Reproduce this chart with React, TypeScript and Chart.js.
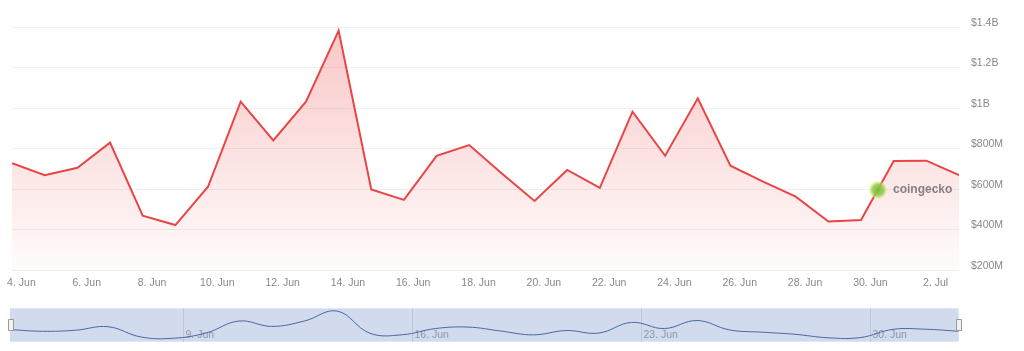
import React, { useEffect, useRef } from "react";
import { Chart, registerables } from "chart.js";

Chart.register(...registerables);

// Daily trading volume in $M, one point per day starting 4 Jun
const volumes = [
  727, 668, 705, 829, 468, 422, 611, 1031, 840, 1031, 1382, 598, 546, 764, 817,
  677, 541, 694, 606, 982, 764, 1048, 715, 636, 562, 439, 447, 738, 740, 669,
];
// points are stamped slightly before local midnight (timezone shift), in days
const dayShift = -0.285;

const xTickDays = [0, 2, 4, 6, 8, 10, 12, 14, 16, 18, 20, 22, 24, 26, 28];
const xTickLabels = [
  "4. Jun", "6. Jun", "8. Jun", "10. Jun", "12. Jun", "14. Jun", "16. Jun",
  "18. Jun", "20. Jun", "22. Jun", "24. Jun", "26. Jun", "28. Jun", "30. Jun", "2. Jul",
];
const yTicks = [200, 400, 600, 800, 1000, 1200, 1400];
const yTickLabels = ["$200M", "$400M", "$600M", "$800M", "$1B", "$1.2B", "$1.4B"];
const navTickDays = [5, 12, 19, 26];
const navTickLabels = ["9. Jun", "16. Jun", "23. Jun", "30. Jun"];

const FONT = "'Liberation Sans', Arial, sans-serif";
const LABEL_COLOR = "#888888";

export default function App() {
  const mainRef = useRef<HTMLCanvasElement | null>(null);
  const navRef = useRef<HTMLCanvasElement | null>(null);

  useEffect(() => {
    const points = volumes.map((v, i) => ({ x: i + dayShift, y: v }));
    const xMin = dayShift;
    const xMax = volumes.length - 1 + dayShift;

    const watermark = {
      id: "watermark",
      afterDatasetsDraw(chart: any) {
        const ctx = chart.ctx;
        ctx.save();
        const cx = 878, cy = 190;
        const g = ctx.createRadialGradient(cx, cy, 1, cx, cy, 9);
        g.addColorStop(0, "rgba(120,190,60,0.95)");
        g.addColorStop(0.6, "rgba(150,205,70,0.85)");
        g.addColorStop(1, "rgba(235,240,120,0.35)");
        ctx.fillStyle = g;
        ctx.beginPath();
        ctx.arc(cx, cy, 9, 0, Math.PI * 2);
        ctx.fill();
        ctx.font = `bold 12px ${FONT}`;
        ctx.fillStyle = "rgba(110,110,110,0.85)";
        ctx.textBaseline = "middle";
        ctx.textAlign = "left";
        ctx.fillText("coingecko", 893, 190);
        ctx.restore();
      },
    };

    const main = new Chart(mainRef.current as HTMLCanvasElement, {
      type: "line",
      data: {
        datasets: [
          {
            data: points,
            borderColor: "#e84545",
            borderWidth: 2,
            pointRadius: 0,
            tension: 0,
            fill: "start",
            backgroundColor: (c: any) => {
              const area = c.chart.chartArea;
              if (!area) return "rgba(232,69,69,0.15)";
              const g = c.chart.ctx.createLinearGradient(0, area.top, 0, area.bottom);
              g.addColorStop(0, "rgba(240,80,80,0.32)");
              g.addColorStop(1, "rgba(240,80,80,0.02)");
              return g;
            },
          },
        ],
      },
      options: {
        animation: false,
        responsive: false,
        events: [],
        layout: { padding: { left: 11.7, top: 27, right: 0, bottom: 0 } },
        plugins: { legend: { display: false }, tooltip: { enabled: false } },
        scales: {
          x: {
            type: "linear",
            min: xMin,
            max: xMax,
            afterBuildTicks: (s: any) => {
              s.ticks = xTickDays.map((v) => ({ value: v }));
            },
            afterFit: (s: any) => {
              s.height = 30;
            },
            ticks: {
              autoSkip: false,
              maxRotation: 0,
              padding: 7,
              color: LABEL_COLOR,
              font: { family: FONT, size: 10.5 },
              callback: (_v: any, i: number) => xTickLabels[i],
            },
            grid: { display: false, drawTicks: false },
            border: { display: true, color: "#ececec", width: 1 },
          },
          y: {
            position: "right",
            min: 200,
            max: 1400,
            afterBuildTicks: (s: any) => {
              s.ticks = yTicks.map((v) => ({ value: v }));
            },
            afterFit: (s: any) => {
              s.width = 65;
            },
            ticks: {
              padding: 12,
              labelOffset: -4,
              color: LABEL_COLOR,
              font: { family: FONT, size: 10.5 },
              callback: (_v: any, i: number) => yTickLabels[i],
            },
            grid: { color: "#f0f0f0", drawTicks: false },
            border: { display: false },
          },
        },
      },
      plugins: [watermark],
    } as any);

    const navDecor = {
      id: "navDecor",
      beforeDatasetsDraw(chart: any) {
        const { ctx, chartArea: a, scales } = chart;
        ctx.save();
        ctx.fillStyle = "#d2dbed";
        ctx.fillRect(a.left, a.top, a.right - a.left, a.bottom - a.top);
        ctx.strokeStyle = "#bfc8da";
        ctx.lineWidth = 1;
        ctx.font = `10.5px ${FONT}`;
        ctx.textBaseline = "alphabetic";
        ctx.textAlign = "left";
        navTickDays.forEach((d, i) => {
          const x = Math.round(scales.x.getPixelForValue(d)) + 0.5;
          ctx.beginPath();
          ctx.moveTo(x, a.top);
          ctx.lineTo(x, a.bottom);
          ctx.stroke();
          ctx.fillStyle = "rgba(120,128,145,0.75)";
          ctx.fillText(navTickLabels[i], x + 2, a.bottom - 4);
        });
        ctx.restore();
      },
      afterDraw(chart: any) {
        const { ctx, chartArea: a } = chart;
        ctx.save();
        const cy = (a.top + a.bottom) / 2;
        [a.left, a.right].forEach((x) => {
          ctx.fillStyle = "#f2f2f2";
          ctx.strokeStyle = "#999999";
          ctx.lineWidth = 1;
          ctx.beginPath();
          ctx.rect(Math.round(x - 2.5) + 0.5, Math.round(cy - 6) + 0.5, 5, 11);
          ctx.fill();
          ctx.stroke();
        });
        ctx.restore();
      },
    };

    const nav = new Chart(navRef.current as HTMLCanvasElement, {
      type: "line",
      data: {
        datasets: [
          {
            data: points,
            borderColor: "#4d66a3",
            borderWidth: 1,
            pointRadius: 0,
            tension: 0.4,
            fill: false,
          },
        ],
      },
      options: {
        animation: false,
        responsive: false,
        events: [],
        layout: { padding: { left: 10, right: 65.3, top: 8.3, bottom: 9.3 } },
        plugins: { legend: { display: false }, tooltip: { enabled: false } },
        scales: {
          x: { type: "linear", display: false, min: xMin, max: xMax },
          y: { display: false, min: 300, max: 1480 },
        },
      },
      plugins: [navDecor],
    } as any);

    return () => {
      main.destroy();
      nav.destroy();
    };
  }, []);

  return (
    <div style={{ position: "fixed", left: 0, top: 0, width: 1024, height: 351, background: "#fff" }}>
      <canvas ref={mainRef} width={1024} height={300} style={{ position: "absolute", left: 0, top: 0 }} />
      <canvas ref={navRef} width={1024} height={51} style={{ position: "absolute", left: 0, top: 300 }} />
    </div>
  );
}
